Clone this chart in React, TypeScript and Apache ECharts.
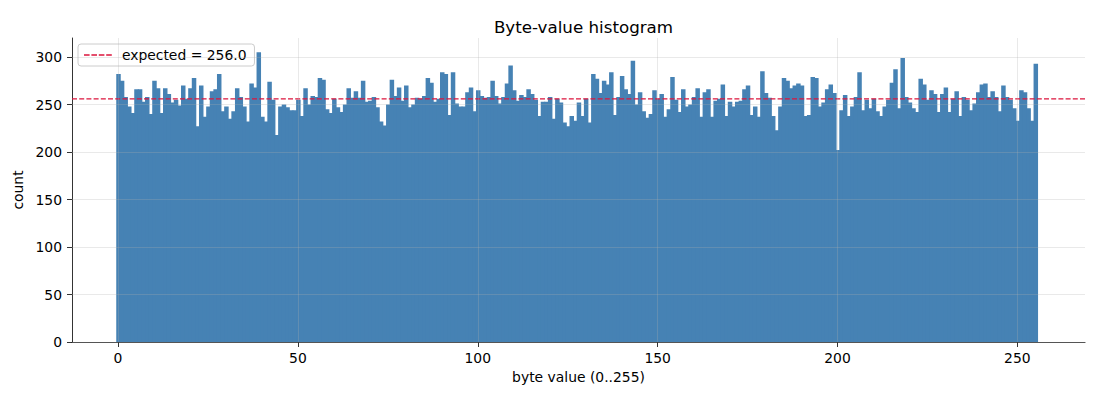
import React, { useEffect, useRef } from "react";
import * as echarts from "echarts";

const COUNTS: number[] = [
  282, 275, 258, 248, 241, 266, 266, 253, 258, 240, 275, 267, 241, 267, 261, 252,
  255, 249, 270, 256, 267, 278, 227, 270, 237, 248, 264, 266, 282, 243, 248, 235,
  243, 267, 258, 248, 232, 272, 268, 305, 237, 232, 274, 255, 218, 248, 250, 247,
  244, 244, 255, 238, 267, 250, 259, 258, 278, 276, 245, 241, 256, 247, 242, 250,
  267, 257, 264, 257, 275, 253, 254, 258, 247, 232, 228, 250, 276, 259, 268, 254,
  270, 247, 250, 257, 256, 259, 278, 273, 253, 256, 284, 282, 239, 284, 251, 248,
  248, 263, 268, 243, 265, 259, 257, 258, 275, 259, 251, 258, 272, 291, 265, 254,
  260, 258, 266, 261, 255, 238, 253, 253, 258, 235, 256, 252, 231, 227, 238, 233,
  252, 238, 256, 231, 282, 277, 262, 275, 271, 284, 239, 258, 280, 266, 261, 296,
  250, 263, 243, 236, 240, 265, 256, 261, 237, 245, 279, 255, 242, 266, 248, 250,
  258, 267, 237, 263, 266, 237, 254, 256, 271, 238, 253, 248, 253, 254, 266, 270,
  239, 248, 237, 285, 262, 257, 238, 223, 248, 278, 275, 267, 270, 272, 270, 238,
  239, 279, 278, 248, 252, 266, 271, 262, 202, 244, 260, 238, 248, 258, 284, 244,
  255, 246, 256, 243, 238, 248, 255, 273, 287, 246, 299, 258, 252, 246, 242, 277,
  271, 255, 265, 261, 242, 261, 268, 242, 256, 264, 238, 258, 255, 244, 251, 263,
  271, 272, 258, 264, 258, 243, 270, 258, 255, 246, 233, 265, 263, 246, 233, 293,
];
const EXPECTED = 256.0;
const LEGEND_LABEL = "expected = 256.0";
const X_TICKS = [0, 50, 100, 150, 200, 250];
const Y_TICKS = [0, 50, 100, 150, 200, 250, 300];
const X_RANGE = [-12.8, 268.8];
const Y_RANGE = [0, 320];

const DASH_ICON =
  "path://M0 0h5.6v1.6h-5.6z M7.4 0h5.6v1.6h-5.6z M14.8 0h5.6v1.6h-5.6z M22.2 0h5.6v1.6h-5.6z";

export default function App() {
  const ref = useRef<HTMLDivElement>(null);
  useEffect(() => {
    document.body.style.margin = "0";
    const chart = echarts.init(ref.current!, null, { renderer: "svg" });
    const font = "DejaVu Sans";
    const histData = COUNTS.map((c, i) => [i, c]);
    const gridStyle = { color: "#b0b0b0", opacity: 0.35, width: 0.8, type: "solid" };
    chart.setOption({
      animation: false,
      textStyle: { fontFamily: font },
      title: {
        text: "Byte-value histogram",
        left: 578.5,
        top: 13,
        textAlign: "center",
        textStyle: { fontSize: 16.7, fontWeight: "normal", color: "#000", fontFamily: font },
      },
      legend: {
        data: [{ name: LEGEND_LABEL, icon: DASH_ICON }],
        left: 78,
        top: 44,
        orient: "vertical",
        padding: [4, 8, 4, 6],
        backgroundColor: "rgba(255,255,255,0.8)",
        borderColor: "#cccccc",
        borderWidth: 1,
        borderRadius: 3,
        itemWidth: 28,
        itemHeight: 1.6,
        itemStyle: { color: "#dc143c" },
        textStyle: { fontSize: 13.9, color: "#000", fontFamily: font, padding: [0, 0, 0, 5] },
      },
      grid: { left: 72, top: 38, width: 1013, height: 304, containLabel: false },
      xAxis: {
        type: "value",
        min: X_RANGE[0],
        max: X_RANGE[1],
        name: "byte value (0..255)",
        nameLocation: "middle",
        nameGap: 28,
        nameTextStyle: { fontSize: 13.9, color: "#000", fontFamily: font },
        axisLine: { show: true, onZero: false, lineStyle: { color: "#000", width: 0.8 } },
        axisTick: { show: true, customValues: X_TICKS, length: 5, lineStyle: { color: "#000", width: 0.8 } },
        axisLabel: { customValues: X_TICKS, margin: 9, fontSize: 13.9, color: "#000", fontFamily: font },
        splitLine: { show: false },
      },
      yAxis: {
        type: "value",
        min: Y_RANGE[0],
        max: Y_RANGE[1],
        interval: 50,
        name: "count",
        nameLocation: "middle",
        nameGap: 43,
        nameTextStyle: { fontSize: 13.9, color: "#000", fontFamily: font },
        axisLine: { show: true, onZero: false, lineStyle: { color: "#000", width: 0.8 } },
        axisTick: { show: true, customValues: Y_TICKS, length: 5, lineStyle: { color: "#000", width: 0.8 } },
        axisLabel: { customValues: Y_TICKS, margin: 10, fontSize: 13.9, color: "#000", fontFamily: font },
        splitLine: { show: false },
      },
      series: [
        {
          type: "custom",
          name: "counts",
          data: histData,
          encode: { x: 0, y: 1 },
          z: 2,
          renderItem: (_params: any, api: any) => {
            const i = api.value(0);
            const v = api.value(1);
            const p0 = api.coord([i - 0.5, v]);
            const p1 = api.coord([i + 0.5, 0]);
            return {
              type: "rect",
              shape: { x: p0[0], y: p0[1], width: p1[0] - p0[0] + 0.9, height: p1[1] - p0[1] },
              style: { fill: "#4682b4" },
            };
          },
        },
        {
          type: "line",
          name: LEGEND_LABEL,
          data: [
            [X_RANGE[0], EXPECTED],
            [X_RANGE[1], EXPECTED],
          ],
          symbol: "none",
          z: 4,
          lineStyle: { color: "#dc143c", type: [5, 2.2], width: 1.3 },
          itemStyle: { color: "#dc143c" },
          markLine: {
            silent: true,
            symbol: ["none", "none"],
            label: { show: false },
            emphasis: { disabled: true },
            lineStyle: gridStyle,
            data: [
              ...Y_TICKS.map((v) => ({ yAxis: v })),
              ...X_TICKS.map((v) => ({ xAxis: v })),
            ],
          },
        },
      ],
    });
    return () => chart.dispose();
  }, []);
  return <div ref={ref} style={{ width: 1100, height: 400 }} />;
}
